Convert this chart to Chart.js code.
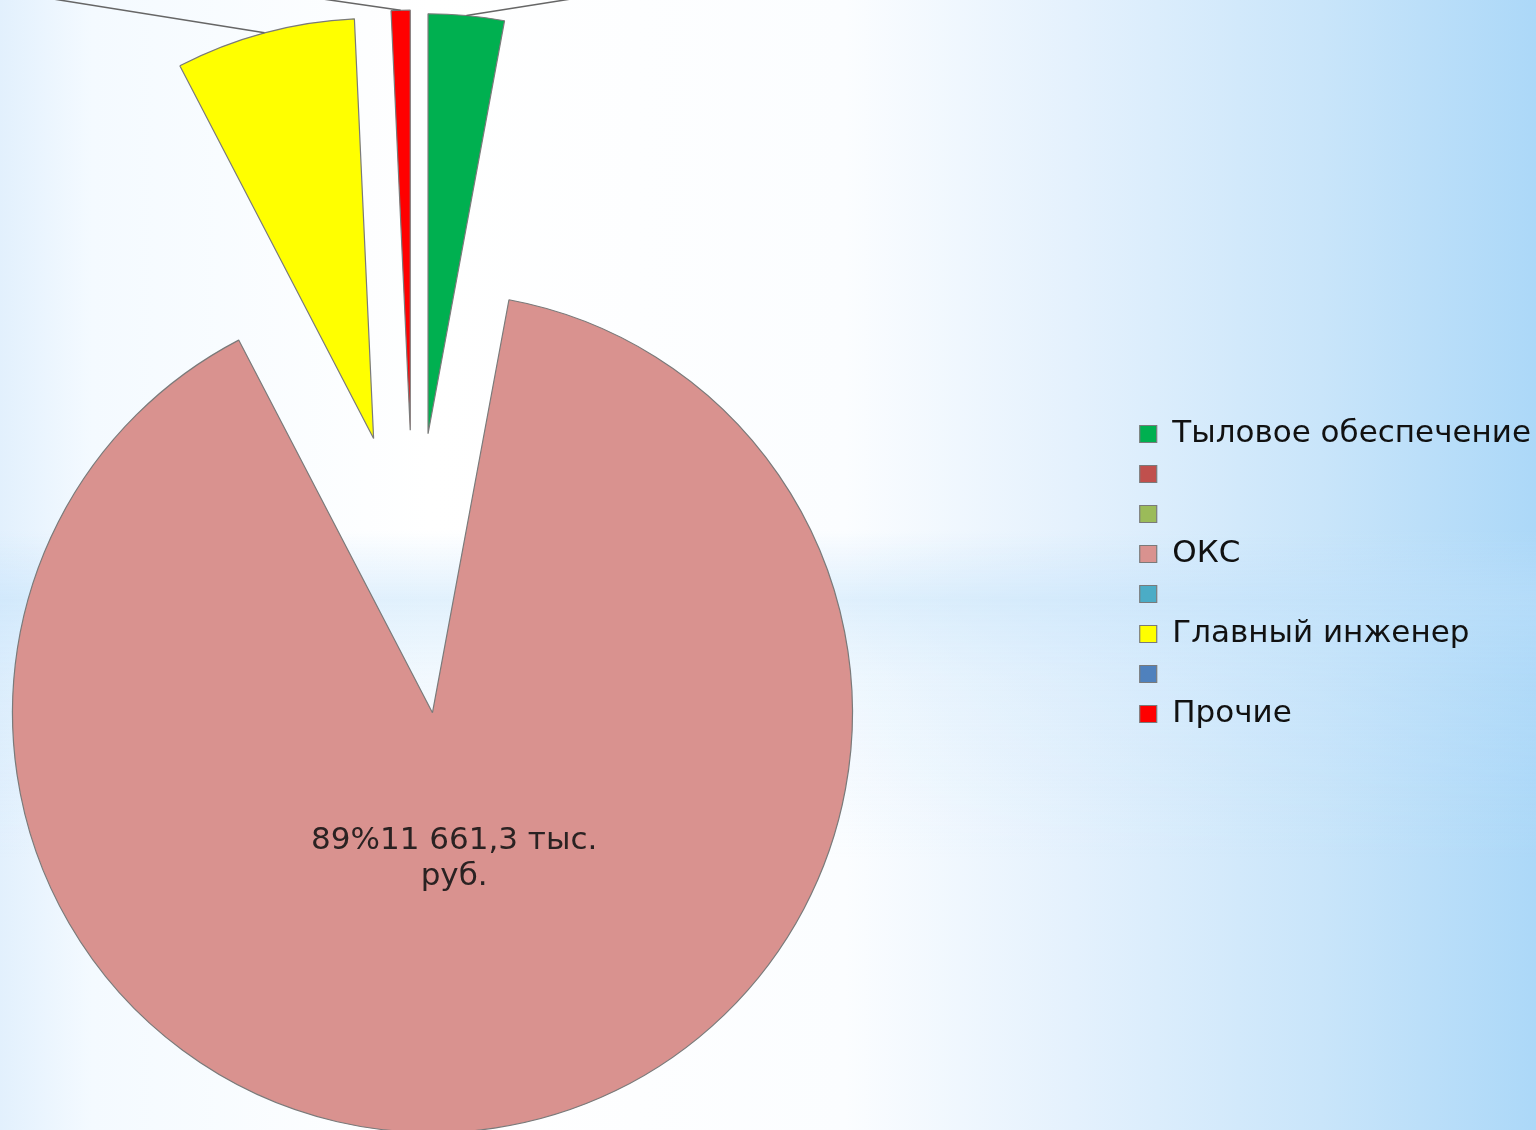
<!DOCTYPE html>
<html>
<head>
<meta charset="utf-8">
<script src="https://cdn.jsdelivr.net/npm/chart.js@4/dist/chart.umd.min.js"></script>
<style>
  html, body { margin: 0; padding: 0; width: 1536px; height: 1130px; overflow: hidden; }
  body {
    background:
      linear-gradient(180deg, rgba(190,224,250,0) 0%, rgba(190,224,250,0) 47%, rgba(190,224,250,0.45) 53%, rgba(190,224,250,0.2) 60%, rgba(190,224,250,0.1) 68%, rgba(190,224,250,0) 76%, rgba(190,224,250,0) 100%),
      linear-gradient(90deg, #e2f0fd 0%, #f4faff 6%, #ffffff 28%, #fbfdff 55%, #e4f1fd 70%, #c9e5fa 86%, #acd8f8 100%);
  }
  #wrap { position: absolute; left: -303px; top: 0; width: 1844px; height: 1148px; }
</style>
</head>
<body>
<div id="wrap"><canvas id="c"></canvas></div>
<script>
// ---- data ----
const categories = ['Тыловое обеспечение', '', '', 'ОКС', '', 'Главный инженер', '', 'Прочие'];
const values = [380, 0, 0, 11661.3, 0, 900, 0, 95];
const colors = ['#00b050', '#c0504d', '#9bbb59', '#d9928f', '#4bacc6', '#ffff00', '#4f81bd', '#ff0000'];
const labelledSlices = [3];
const valueUnitLine1 = 'тыс.';
const valueUnitLine2 = 'руб.';

// ---- styling (not data) ----
const explode = [155, 0, 0, 126, 0, 155, 0, 158];
const leaderDirs = [[95, -15], null, null, null, null, [-200, -32], null, [-90, -13]];

function fmt(v) {
  const parts = v.toFixed(1).split('.');
  return parts[0].replace(/\B(?=(\d{3})+(?!\d))/g, ' ') + ',' + parts[1];
}

const total = values.reduce((a, b) => a + b, 0);

const explodePlugin = {
  id: 'explodeAndLabels',
  afterDatasetUpdate(chart, args) {
    args.meta.data.forEach((arc, i) => {
      const d = explode[i] || 0;
      const mid = (arc.startAngle + arc.endAngle) / 2;
      arc.x += Math.cos(mid) * d;
      arc.y += Math.sin(mid) * d;
    });
  },
  afterDatasetDraw(chart, args) {
    const ctx = chart.ctx;
    args.meta.data.forEach((arc, i) => {
      const mid = (arc.startAngle + arc.endAngle) / 2;
      const ld = leaderDirs[i];
      if (ld && values[i] > 0) {
        const sx = arc.x + Math.cos(mid) * arc.outerRadius;
        const sy = arc.y + Math.sin(mid) * arc.outerRadius;
        ctx.save();
        ctx.strokeStyle = '#666666';
        ctx.lineWidth = 1.5;
        ctx.beginPath();
        ctx.moveTo(sx, sy);
        ctx.lineTo(sx + ld[0] * 3, sy + ld[1] * 3);
        ctx.stroke();
        ctx.restore();
      }
      if (labelledSlices.includes(i)) {
        const r = arc.outerRadius * 0.35;
        const lx = arc.x + Math.cos(mid) * r;
        const ly = arc.y + Math.sin(mid) * r;
        const pct = Math.round(values[i] / total * 100);
        ctx.save();
        ctx.font = '31px "DejaVu Sans"';
        ctx.fillStyle = '#2a2222';
        ctx.textAlign = 'center';
        ctx.textBaseline = 'middle';
        ctx.fillText(pct + '%' + fmt(values[i]) + ' ' + valueUnitLine1, lx, ly - 17);
        ctx.fillText(valueUnitLine2, lx, ly + 19);
        ctx.restore();
      }
    });
  }
};

new Chart(document.getElementById('c'), {
  type: 'pie',
  data: {
    labels: categories,
    datasets: [{
      data: values,
      backgroundColor: colors,
      borderColor: '#7a7a7a',
      borderWidth: 1.2,
      radius: 420
    }]
  },
  options: {
    responsive: true,
    maintainAspectRatio: false,
    animation: false,
    events: [],
    layout: { padding: 0 },
    plugins: {
      title: { display: true, text: '', fullSize: false, position: 'top', padding: { top: 27, bottom: 0 }, font: { size: 1 } },
      tooltip: { enabled: false },
      legend: {
        position: 'right',
        align: 'center',
        labels: {
          boxWidth: 17,
          boxHeight: 17,
          padding: 9,
          color: '#111111',
          font: { family: 'DejaVu Sans', size: 31 }
        }
      }
    }
  },
  plugins: [explodePlugin]
});
</script>
</body>
</html>
